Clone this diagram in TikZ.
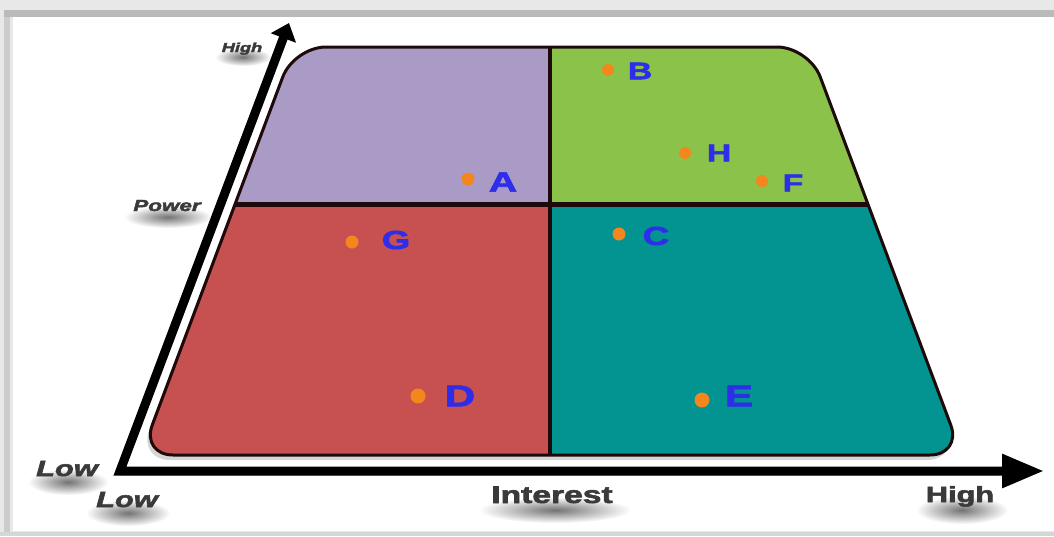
\documentclass[tikz,border=0pt]{standalone}
\usepackage{fontspec}
\usepackage{graphicx}
\setmainfont{Liberation Sans}
\newfontfamily\heavyfont{Liberation Sans}[BoldFeatures={FakeBold=2.2}, BoldItalicFeatures={FakeBold=2.2}]
\usetikzlibrary{arrows.meta,fadings}

\definecolor{quadTL}{HTML}{AA9BC6}
\definecolor{quadTR}{HTML}{8AC24A}
\definecolor{quadBL}{HTML}{C75050}
\definecolor{quadBR}{HTML}{039390}
\definecolor{edgec}{HTML}{1E0A0A}
\definecolor{dotc}{HTML}{F4861E}
\definecolor{letterc}{HTML}{2E2EEA}
\definecolor{labelc}{HTML}{3A3A3A}

% radial fade used for the blurred label shadows
\tikzfading[name=softblob, inner color=transparent!0, outer color=transparent!100]

% wide, heavy lettering
\newcommand\wide[1]{\scalebox{1.4}[1]{#1}}
\newcommand\fsz[1]{\fontsize{#1}{#1}\selectfont\heavyfont\bfseries}
% outline of the grid: a trapezoid in perspective
\newcommand\trapezoid{(550,47) -- (809,47) -- (962,455) -- (141,455) -- (294,47) -- cycle}

\tikzset{
  gridedge/.style={draw=edgec, line width=3pt, rounded corners=32pt},
  axisline/.style={line width=9pt, line join=miter, miter limit=10},
  axislabel/.style={text=labelc, inner sep=0pt, anchor=base},
  softshadow/.style={fill=black, opacity=0.55, path fading=softblob},
  marker/.style={circle, fill=dotc, inner sep=0pt},
  stake/.style={text=letterc, inner sep=0pt},
}

\begin{document}
\begin{tikzpicture}[x=1pt,y=-1pt]
\useasboundingbox (0,0) rectangle (1054,536);

% window frame
\fill[black!9] (0,0) rectangle (1054,536);
\fill[black!20] (4,10) rectangle (10,536);
\fill[black!27] (4,10) rectangle (1054,17);
\fill[black!16] (0,532) rectangle (1054,536);
\fill[white] (13,17) rectangle (1054,531);

% soft shadow of the grid
\fill[black!40, opacity=0.4, rounded corners=32pt, xshift=-3pt, yshift=-5pt] \trapezoid;

% the four quadrants
\begin{scope}
  \clip[rounded corners=32pt] \trapezoid;
  \fill[quadTL] (0,0) rectangle (550,204);
  \fill[quadTR] (550,0) rectangle (1054,204);
  \fill[quadBL] (0,204) rectangle (550,536);
  \fill[quadBR] (550,204) rectangle (1054,536);
  \draw[edgec, line width=5pt] (0,204) -- (1054,204);
  \draw[edgec, line width=3.5pt] (550,0) -- (550,536);
\end{scope}
\draw[gridedge] \trapezoid;

% axes
\coordinate (origin) at (120,471);
\coordinate (ytip) at (289,23);
\coordinate (xtip) at (1044,471);
\coordinate (xshadow) at (1000,471);
\draw[line width=9pt, black!30, opacity=0.5, yshift=-9pt] (origin) -- (xshadow);
\draw[axisline, {Triangle[length=16pt,width=26pt]}-{Triangle[length=42pt,width=32pt]}]
  (ytip) -- (origin) -- (xtip);

% blurred shadows under the axis labels
\fill[softshadow] (243,57) ellipse (28 and 9);
\fill[softshadow] (168,217) ellipse (44 and 11);
\fill[softshadow] (68,482) ellipse (40 and 13);
\fill[softshadow] (128,513) ellipse (42 and 13);
\fill[softshadow] (555,510) ellipse (76 and 13);
\fill[softshadow] (962,510) ellipse (46 and 14);

% axis labels
\node[axislabel, font=\fsz{13}\itshape] (high-y) at (242,52) {\wide{High}};
\node[axislabel, font=\fsz{16}\itshape] (power) at (167,211) {\wide{Power}};
\node[axislabel, font=\fsz{22}\itshape] (low-y) at (67,476) {\wide{Low}};
\node[axislabel, font=\fsz{22}\itshape] (low-x) at (127,507) {\wide{Low}};
\node[axislabel, font=\fsz{24}] (interest) at (552,503) {\wide{Interest}};
\node[axislabel, font=\fsz{22}] (high-x) at (960,502) {\wide{High}};

% stakeholders
\node[marker, minimum size=12pt] (dotB) at (608,70) {};
\node[stake, font=\fsz{24}] (B) at (640,71) {\wide{B}};
\node[marker, minimum size=12pt] (dotH) at (685,153) {};
\node[stake, font=\fsz{24}] (H) at (719,153) {\wide{H}};
\node[marker, minimum size=12pt] (dotF) at (762,181) {};
\node[stake, font=\fsz{24}] (F) at (793,183) {\wide{F}};
\node[marker, minimum size=13pt] (dotA) at (468,179) {};
\node[stake, font=\fsz{28}] (A) at (503,182) {\wide{A}};
\node[marker, minimum size=13pt] (dotG) at (352,242) {};
\node[stake, font=\fsz{26}] (G) at (396,240) {\wide{G}};
\node[marker, minimum size=13pt] (dotC) at (619,234) {};
\node[stake, font=\fsz{26}] (C) at (656,236) {\wide{C}};
\node[marker, minimum size=15pt] (dotD) at (418,396) {};
\node[stake, font=\fsz{30}] (D) at (460,396) {\wide{D}};
\node[marker, minimum size=15pt] (dotE) at (702,400) {};
\node[stake, font=\fsz{30}] (E) at (739,396) {\wide{E}};
\end{tikzpicture}
\end{document}
